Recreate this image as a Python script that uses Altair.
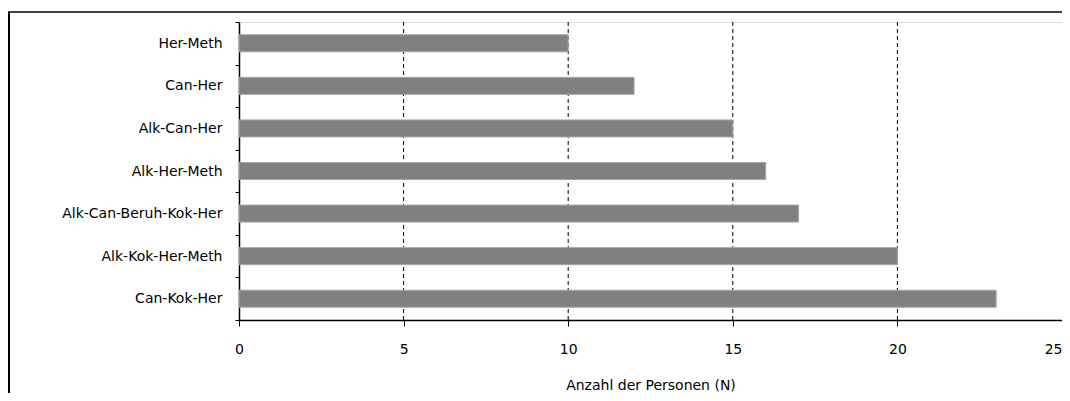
import altair as alt
import pandas as pd

categories = ["Her-Meth", "Can-Her", "Alk-Can-Her", "Alk-Her-Meth",
              "Alk-Can-Beruh-Kok-Her", "Alk-Kok-Her-Meth", "Can-Kok-Her"]
counts = [10, 12, 15, 16, 17, 20, 23]
grid_values = [5, 10, 15, 20]
tick_values = [0, 5, 10, 15, 20, 25]

W, H = 823, 298
FONT = "DejaVu Sans"

df = pd.DataFrame({"Kombination": categories, "Anzahl": counts})
grid_df = pd.DataFrame({"g": grid_values})
one = pd.DataFrame({"k": [0]})

x_scale = alt.Scale(domain=[0, 25], nice=False, zero=True)

bars = alt.Chart(df).mark_bar(
    color="#808080", stroke="#a6a6a6", strokeWidth=1,
    height=alt.RelativeBandSize(0.4)
).encode(
    x=alt.X("Anzahl:Q", scale=x_scale,
            axis=alt.Axis(values=tick_values, grid=False, tickSize=6,
                          tickColor="black", domainColor="black", domainWidth=1.5,
                          labelFont=FONT, labelFontSize=14, labelColor="black",
                          labelPadding=16, title="Anzahl der Personen (N)",
                          labelAlign={"condition": {"test": "datum.value == 25", "value": "right"},
                                      "value": "center"},
                          titleFont=FONT, titleFontSize=14, titleFontWeight="normal",
                          titleColor="black", titlePadding=22, labelFlush=False)),
    y=alt.Y("Kombination:N", sort=categories,
            scale=alt.Scale(paddingInner=0, paddingOuter=0),
            axis=alt.Axis(title=None, tickBand="extent", tickSize=4,
                          tickColor="black", domainColor="black", domainWidth=1.5,
                          labelFont=FONT, labelFontSize=14, labelColor="black",
                          labelPadding=13, labelLimit=300)),
)

grid = alt.Chart(grid_df).mark_rule(
    color="black", strokeWidth=1, strokeDash=[4, 3]
).encode(x=alt.X("g:Q", scale=x_scale))

frame_top = alt.Chart(one).mark_rule(color="black", strokeWidth=1.5).encode(
    x=alt.value(-231), x2=alt.value(W + 40), y=alt.value(-10)
)
frame_left = alt.Chart(one).mark_rule(color="black", strokeWidth=2).encode(
    x=alt.value(-230), y=alt.value(-10), y2=alt.value(H + 200)
)

chart = alt.layer(grid, bars, frame_top, frame_left).properties(
    width=W, height=H,
    autosize=alt.AutoSizeParams(type="none"),
    padding={"left": 231, "top": 14, "right": 0, "bottom": 73},
).configure_view(
    stroke="#a8a8a8", strokeWidth=2
).configure(background="white")

chart.save("out.html", embed_options={"renderer": "svg", "actions": False})
